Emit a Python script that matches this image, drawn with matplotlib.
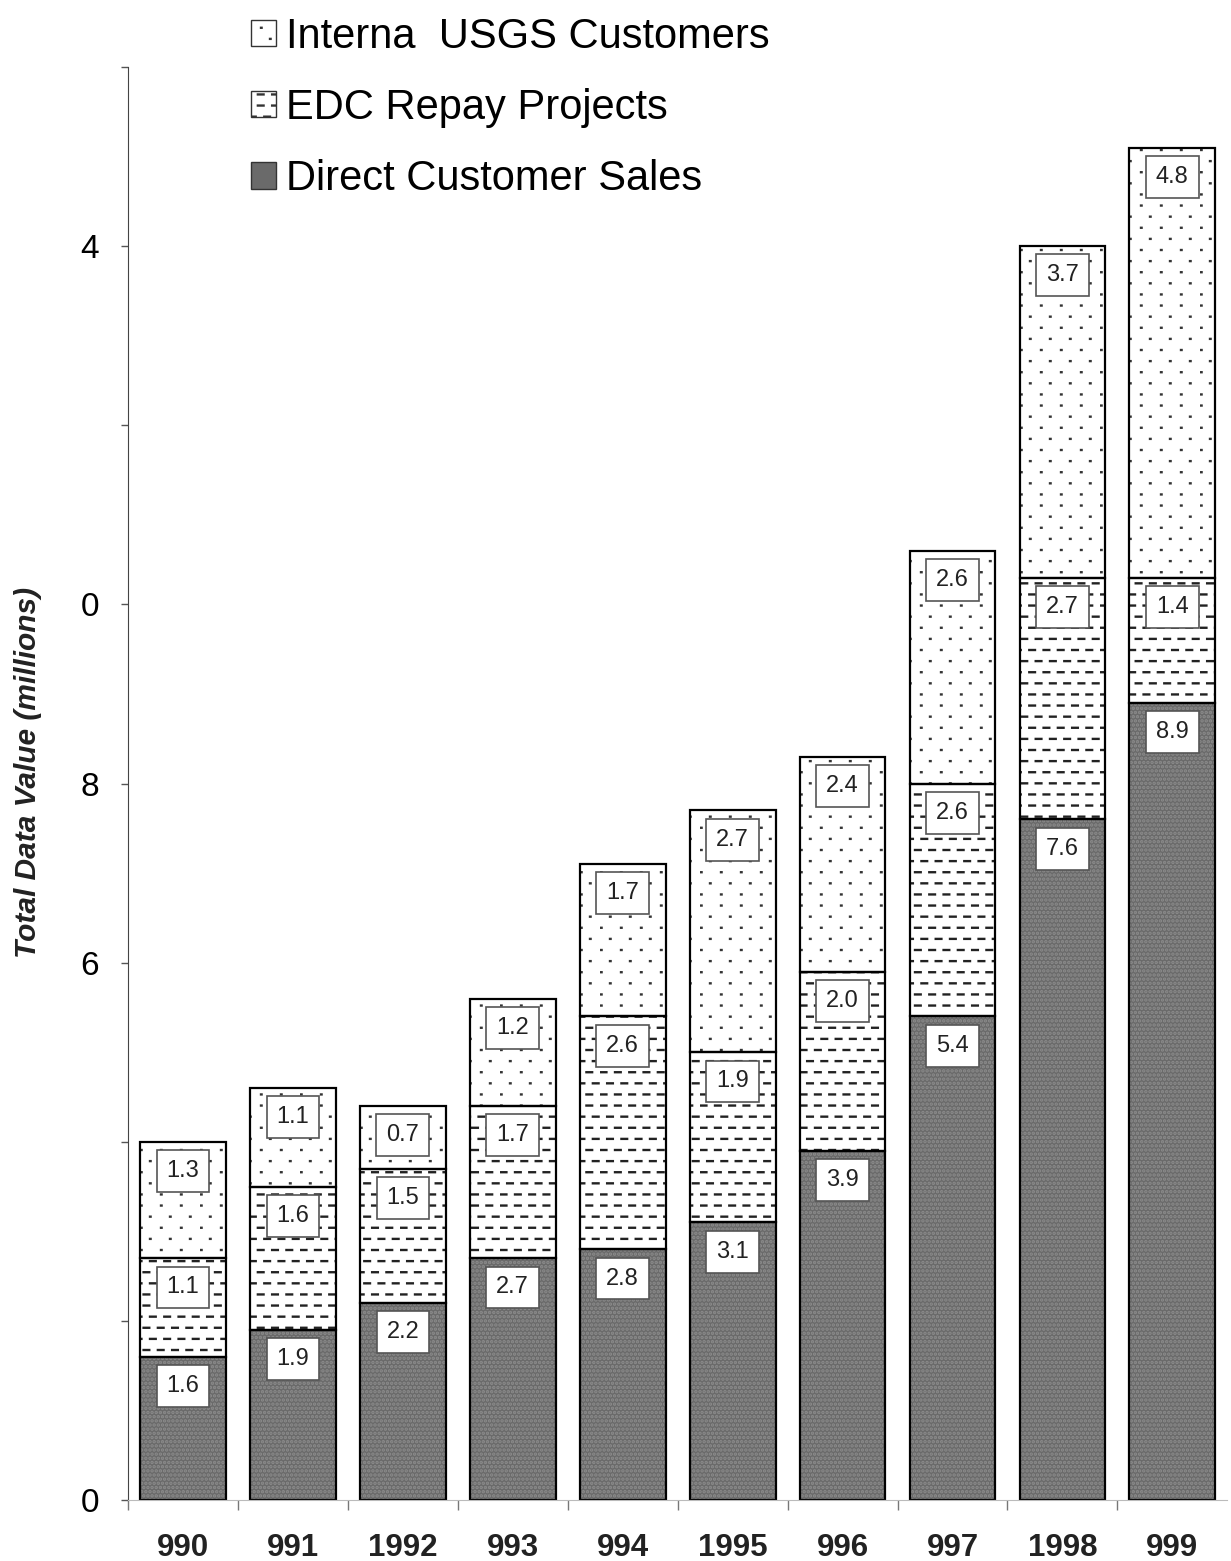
import matplotlib
matplotlib.use("Agg")
import matplotlib.pyplot as plt
import numpy as np
from matplotlib import hatch as mhatch
from matplotlib.path import Path
from matplotlib.patches import Patch

# values (millions)
years = ["990", "991", "1992", "993", "994", "1995", "996", "997", "1998", "999"]
direct_sales = [1.6, 1.9, 2.2, 2.7, 2.8, 3.1, 3.9, 5.4, 7.6, 8.9]
edc_repay = [1.1, 1.6, 1.5, 1.7, 2.6, 1.9, 2.0, 2.6, 2.7, 1.4]
internal_usgs = [1.3, 1.1, 0.7, 1.2, 1.7, 2.7, 2.4, 2.6, 3.7, 4.8]

y_ticks = [0, 2, 4, 6, 8, 10, 12, 14, 16]
y_labels = ["0", "", "", "6", "8", "0", "", "4", ""]


# the scan uses short staggered dashes and sparse dots, matplotlib only has
# full lines / square dot grids, so add two small hatch types ("_" and ":")
class StaggerHatch(mhatch.HatchPatternBase):
    char = "_"
    per_row = 7
    frac = 0.4

    def __init__(self, hatch, density):
        self.num_rows = int(hatch.count(self.char) * density * 1.6)
        self.num_vertices = self.num_rows * self.per_row * 2

    def set_vertices_and_codes(self, vertices, codes):
        k = 0
        for r in range(self.num_rows):
            yy = (r + 0.5) / self.num_rows
            off = 0.5 / self.per_row if r % 2 else 0.05 / self.per_row
            for c in range(self.per_row):
                x0 = c / self.per_row + off
                vertices[k] = (x0, yy)
                vertices[k + 1] = (x0 + self.frac / self.per_row, yy)
                codes[k] = Path.MOVETO
                codes[k + 1] = Path.LINETO
                k += 2


class DotHatch(StaggerHatch):
    char = ":"
    per_row = 5
    frac = 0.03


mhatch._hatch_types.append(StaggerHatch)
mhatch._hatch_types.append(DotHatch)

plt.rcParams["font.family"] = ["Liberation Sans", "DejaVu Sans"]
plt.rcParams["hatch.linewidth"] = 1.7

fig = plt.figure(figsize=(12.31, 15.61), dpi=100)
ax = fig.add_axes([0.104, 0.039, 0.893, 0.918])

x = np.arange(len(years))
w = 0.78
d = np.array(direct_sales)
e = np.array(edc_repay)
u = np.array(internal_usgs)

# fills first (hatch takes edgecolor), then black outlines on top
ax.bar(x, d, w, color="#6a6a6a", edgecolor="#8c8c8c", hatch="....", linewidth=0)
ax.bar(x, e, w, bottom=d, color="white", edgecolor="#222222", hatch="_", linewidth=0)
ax.bar(x, u, w, bottom=d + e, color="white", edgecolor="#333333", hatch=":", linewidth=0)
for vals, base in [(d, 0), (e, d), (u, d + e)]:
    ax.bar(x, vals, w, bottom=base, fill=False, edgecolor="black", linewidth=1.6)

# boxed value labels near the top of each segment
for vals, base in [(d, 0 * d), (e, d), (u, d + e)]:
    for i in range(len(years)):
        ax.annotate(f"{vals[i]:.1f}", xy=(x[i], base[i] + vals[i]),
                    xytext=(0, -21), textcoords="offset points",
                    ha="center", va="center", fontsize=17, color="#222222",
                    bbox=dict(boxstyle="square,pad=0.42", fc="white",
                              ec="#555555", lw=1.2))

ax.set_xlim(-0.5, 9.5)
ax.set_ylim(0, 16)
ax.set_yticks(y_ticks)
ax.set_yticklabels(y_labels, fontsize=24)
ax.tick_params(axis="y", length=5, width=1, color="#555555", pad=16)

ax.set_xticks(x)
ax.set_xticklabels(years, fontsize=22.5, fontweight="bold", color="#222222")
ax.set_xticks(np.arange(-0.5, 9.5, 1), minor=True)
ax.tick_params(axis="x", which="major", length=0, pad=24)
ax.tick_params(axis="x", which="minor", length=7, width=1, color="#777777")

for s in ["top", "right"]:
    ax.spines[s].set_visible(False)
ax.spines["left"].set_color("#444444")
ax.spines["bottom"].set_color("#bbbbbb")

fig.text(0.023, 0.505, "Total Data Value (millions)", rotation=90,
         ha="center", va="center", fontsize=21.5, fontweight="bold",
         fontstyle="italic", color="#222222")

handles = [
    Patch(facecolor="white", edgecolor="#333333", hatch=":", label="Interna  USGS Customers"),
    Patch(facecolor="white", edgecolor="#333333", hatch="_", label="EDC Repay Projects"),
    Patch(facecolor="#6a6a6a", edgecolor="#333333", label="Direct Customer Sales"),
]
fig.legend(handles=handles, loc="upper left", bbox_to_anchor=(0.18, 1.008),
           frameon=False, fontsize=30, handlelength=0.6, handleheight=0.6,
           handletextpad=0.25, labelspacing=0.75, borderaxespad=0.3)

fig.savefig("out.png", dpi=100, facecolor="white")
